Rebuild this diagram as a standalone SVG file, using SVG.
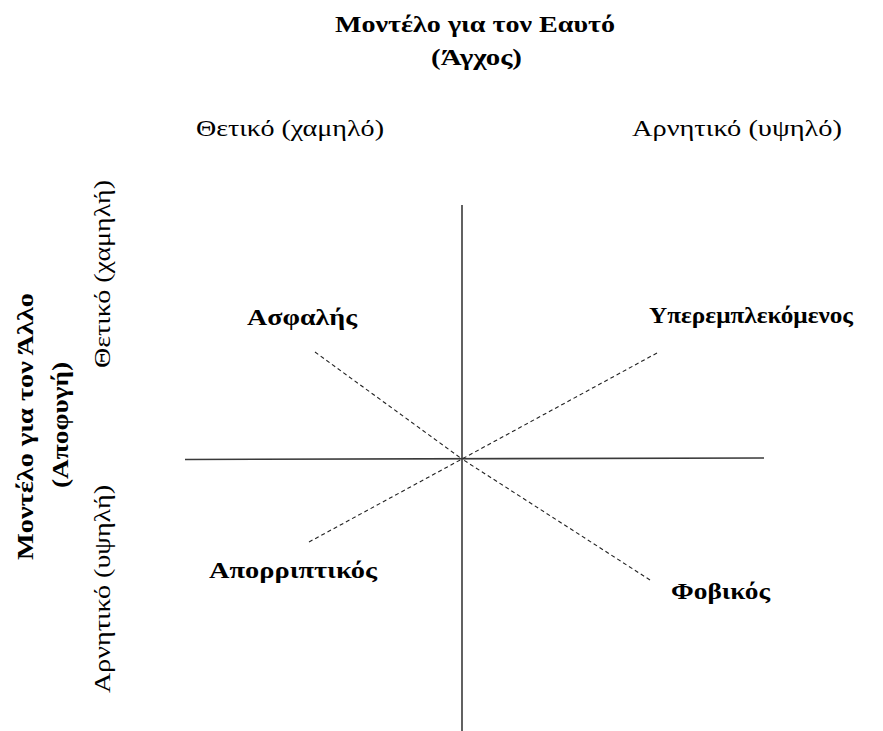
<svg xmlns="http://www.w3.org/2000/svg" width="883" height="731" viewBox="0 0 883 731">
<style>
.t{font-family:"Liberation Serif","Times New Roman",serif;font-size:23px;fill:#000}
.b{font-family:"Liberation Serif","Times New Roman",serif;font-size:24px;font-weight:bold;fill:#000}
.n{font-family:"Liberation Serif","Times New Roman",serif;font-size:23px;font-weight:bold;fill:#000}
.axis{stroke:#3a3a3a;stroke-width:1.6;fill:none}
.dash{stroke:#222;stroke-width:1.1;stroke-dasharray:4 3;fill:none}
</style>
<rect width="883" height="731" fill="#fff"/>
<g id="axis-labels">
<text class="b" x="335" y="32" textLength="280" lengthAdjust="spacingAndGlyphs">Μοντέλο για τον Εαυτό</text>
<text class="b" x="431" y="65" textLength="91" lengthAdjust="spacingAndGlyphs">(Άγχος)</text>
<text class="t" x="196" y="136" textLength="188" lengthAdjust="spacingAndGlyphs">Θετικό (χαμηλό)</text>
<text class="t" x="632" y="136" textLength="210" lengthAdjust="spacingAndGlyphs">Αρνητικό (υψηλό)</text>
<text class="b" transform="translate(33,560) rotate(-90)" textLength="267" lengthAdjust="spacingAndGlyphs">Μοντέλο για τον Άλλο</text>
<text class="b" transform="translate(68,488) rotate(-90)" textLength="126" lengthAdjust="spacingAndGlyphs">(Αποφυγή)</text>
<text class="t" transform="translate(110,368) rotate(-90)" textLength="188" lengthAdjust="spacingAndGlyphs">Θετικό (χαμηλή)</text>
<text class="t" transform="translate(110,693) rotate(-90)" textLength="208" lengthAdjust="spacingAndGlyphs">Αρνητικό (υψηλή)</text>
</g>
<g id="connectors">
<line class="axis" x1="462" y1="205" x2="462" y2="731"/>
<line class="axis" x1="185" y1="459.5" x2="764" y2="458"/>
<line class="dash" x1="315" y1="352" x2="462" y2="459"/>
<line class="dash" x1="657" y1="353" x2="462" y2="459"/>
<line class="dash" x1="309" y1="542" x2="462" y2="459"/>
<line class="dash" x1="650" y1="580" x2="462" y2="459"/>
</g>
<g id="node-asfalis"><text class="n" x="247" y="325" textLength="110" lengthAdjust="spacingAndGlyphs">Ασφαλής</text></g>
<g id="node-yperemplekomenos"><text class="n" x="649" y="323" textLength="204" lengthAdjust="spacingAndGlyphs">Υπερεμπλεκόμενος</text></g>
<g id="node-aporriptikos"><text class="n" x="209" y="578" textLength="168" lengthAdjust="spacingAndGlyphs">Απορριπτικός</text></g>
<g id="node-fovikos"><text class="n" x="671" y="599" textLength="99" lengthAdjust="spacingAndGlyphs">Φοβικός</text></g>
</svg>
